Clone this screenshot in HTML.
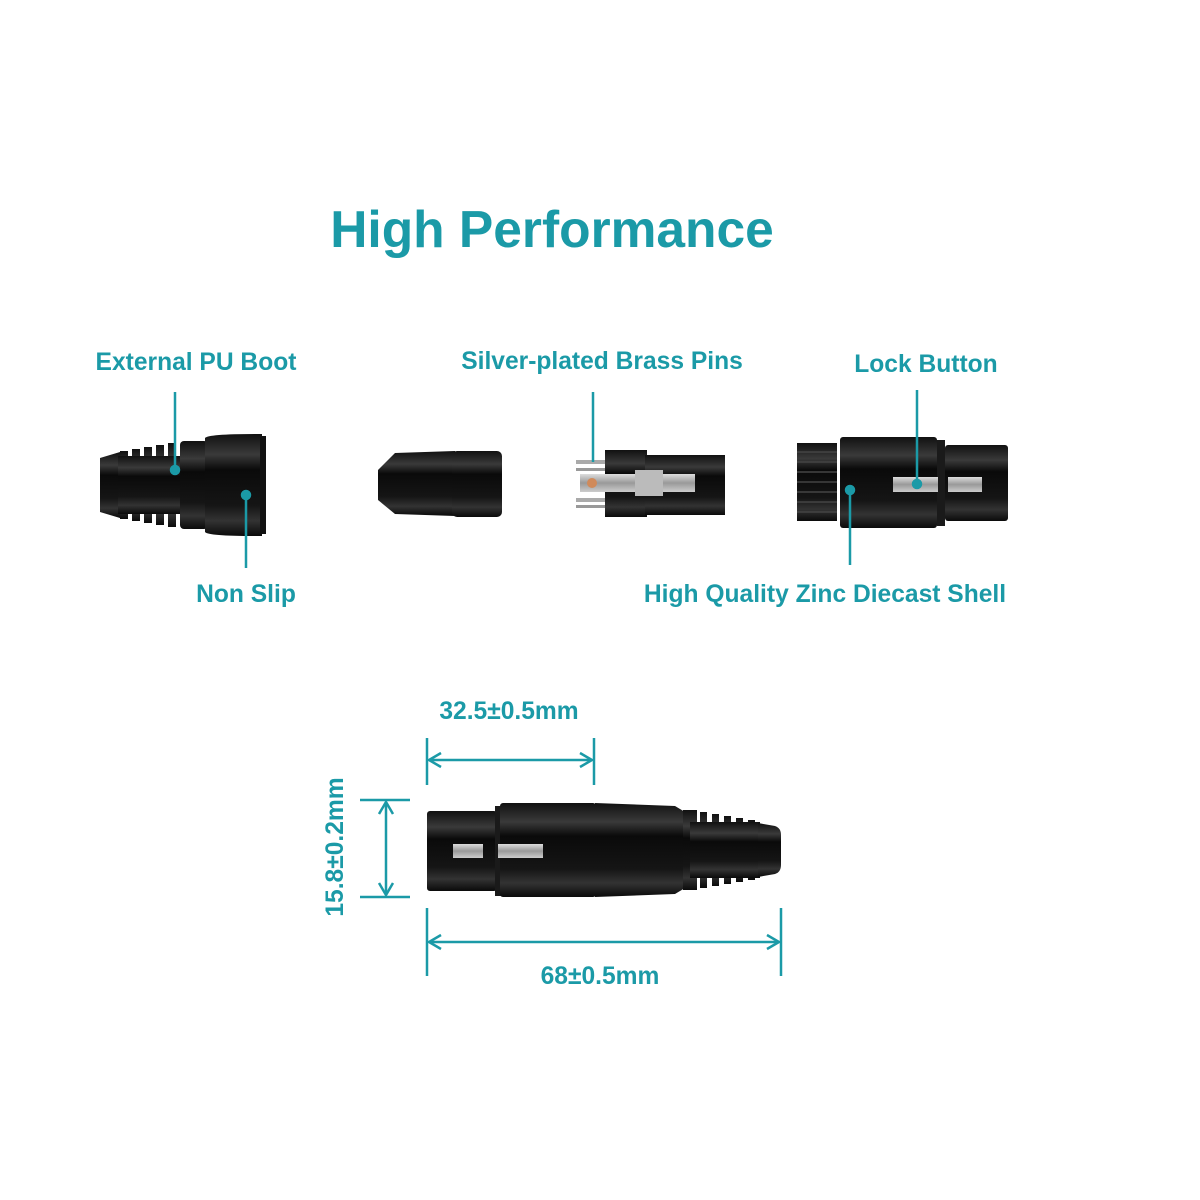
<!DOCTYPE html>
<html><head><meta charset="utf-8"><style>
html,body{margin:0;padding:0;background:#fff}
svg{display:block}
text{font-family:"Liberation Sans",Arial,sans-serif;font-weight:bold;fill:#1b9aa7}
</style></head><body>
<svg width="1200" height="1200" viewBox="0 0 1200 1200" xmlns="http://www.w3.org/2000/svg">
<defs>
<linearGradient id="blk" x1="0" y1="0" x2="0" y2="1">
<stop offset="0" stop-color="#111"/><stop offset="0.2" stop-color="#3a3a3a"/><stop offset="0.35" stop-color="#0a0a0a"/><stop offset="0.7" stop-color="#151515"/><stop offset="0.85" stop-color="#333"/><stop offset="1" stop-color="#0a0a0a"/>
</linearGradient>
<linearGradient id="met" x1="0" y1="0" x2="0" y2="1">
<stop offset="0" stop-color="#ddd"/><stop offset="0.5" stop-color="#999"/><stop offset="1" stop-color="#ccc"/>
</linearGradient>
</defs>
<text x="552" y="247" font-size="51.5" text-anchor="middle">High Performance</text>
<g font-size="24.6">
<text x="196" y="370" text-anchor="middle">External PU Boot</text>
<text x="602" y="369" text-anchor="middle">Silver-plated Brass Pins</text>
<text x="926" y="372" text-anchor="middle">Lock Button</text>
<text x="246" y="602" text-anchor="middle">Non Slip</text>
<text x="825" y="602" text-anchor="middle">High Quality Zinc Diecast Shell</text>
<text x="509" y="719" text-anchor="middle">32.5±0.5mm</text>
<text x="600" y="984" text-anchor="middle">68±0.5mm</text>
<text transform="translate(343,847) rotate(-90)" text-anchor="middle">15.8±0.2mm</text>
</g>
<!-- boot part 1 -->
<g>
<path d="M100 458 L120 452 L120 518 L100 512 Z" fill="url(#blk)"/>
<g fill="url(#blk)">
<rect x="120" y="451" width="8" height="68"/><rect x="132" y="449" width="8" height="72"/><rect x="144" y="447" width="8" height="76"/><rect x="156" y="445" width="8" height="80"/><rect x="168" y="443" width="8" height="84"/>
<rect x="118" y="456" width="70" height="58"/>
<rect x="180" y="441" width="28" height="88" rx="4"/>
</g>
<path d="M205 438 Q208 434 255 434 L262 434 L262 536 L255 536 Q208 536 205 532 Z" fill="url(#blk)"/>
<rect x="260" y="436" width="6" height="98" fill="#111"/>
</g>
<!-- insert -->
<path d="M378 470 L395 453 L455 451 L455 516 L395 514 L378 500 Z" fill="url(#blk)"/>
<rect x="452" y="451" width="50" height="66" rx="5" fill="url(#blk)"/>
<!-- pins part -->
<g>
<rect x="576" y="460" width="32" height="4" fill="#aaa"/><rect x="576" y="468" width="32" height="3" fill="#999"/>
<rect x="576" y="498" width="32" height="4" fill="#aaa"/><rect x="576" y="505" width="32" height="3" fill="#999"/>
<rect x="605" y="450" width="42" height="67" fill="url(#blk)"/>
<rect x="645" y="455" width="80" height="60" fill="url(#blk)"/>
<rect x="580" y="474" width="115" height="18" fill="url(#met)"/>
<circle cx="592" cy="483" r="5" fill="#d08a5a"/>
<rect x="635" y="470" width="28" height="26" fill="#bbb"/>
</g>
<!-- female shell -->
<g>
<rect x="797" y="443" width="40" height="78" fill="url(#blk)"/>
<g stroke="#444" stroke-width="1.5">
<line x1="797" y1="452" x2="837" y2="452"/><line x1="797" y1="462" x2="837" y2="462"/><line x1="797" y1="472" x2="837" y2="472"/><line x1="797" y1="482" x2="837" y2="482"/><line x1="797" y1="492" x2="837" y2="492"/><line x1="797" y1="502" x2="837" y2="502"/><line x1="797" y1="512" x2="837" y2="512"/>
</g>
<rect x="840" y="437" width="97" height="91" rx="3" fill="url(#blk)"/>
<rect x="937" y="440" width="8" height="86" fill="#1a1a1a"/>
<rect x="945" y="445" width="63" height="76" rx="3" fill="url(#blk)"/>
<rect x="893" y="477" width="45" height="15" fill="url(#met)"/>
<rect x="948" y="477" width="34" height="15" fill="url(#met)"/>
</g>
<!-- callout lines -->
<g stroke="#1b9aa7" stroke-width="2.5" fill="#1b9aa7">
<line x1="175" y1="392" x2="175" y2="470"/><circle cx="175" cy="470" r="4"/>
<line x1="246" y1="495" x2="246" y2="568"/><circle cx="246" cy="495" r="4"/>
<line x1="593" y1="392" x2="593" y2="462"/>
<line x1="917" y1="390" x2="917" y2="484"/><circle cx="917" cy="484" r="4"/>
<line x1="850" y1="490" x2="850" y2="565"/><circle cx="850" cy="490" r="4"/>
</g>
<!-- bottom connector -->
<g>
<rect x="427" y="811" width="70" height="80" rx="3" fill="url(#blk)"/>
<rect x="495" y="806" width="7" height="90" fill="#1a1a1a"/>
<rect x="500" y="803" width="96" height="94" rx="3" fill="url(#blk)"/>
<path d="M595 803 L675 806 L685 812 L685 888 L675 894 L595 897 Z" fill="url(#blk)"/>
<g fill="url(#blk)">
<rect x="683" y="810" width="14" height="80"/>
<rect x="700" y="812" width="7" height="76"/><rect x="712" y="814" width="7" height="72"/><rect x="724" y="816" width="7" height="68"/><rect x="736" y="818" width="7" height="64"/><rect x="748" y="820" width="7" height="60"/>
<rect x="690" y="822" width="70" height="56"/>
</g>
<path d="M758 823 L775 826 Q781 828 781 835 L781 865 Q781 872 775 874 L758 877 Z" fill="url(#blk)"/>
<rect x="453" y="844" width="30" height="14" fill="url(#met)"/>
<rect x="498" y="844" width="45" height="14" fill="url(#met)"/>
</g>
<!-- dimension lines -->
<g stroke="#1b9aa7" stroke-width="2.5" fill="none">
<line x1="427" y1="738" x2="427" y2="785"/><line x1="594" y1="738" x2="594" y2="785"/>
<line x1="429" y1="760" x2="592" y2="760"/>
<polyline points="441,753 429,760 441,767"/><polyline points="580,753 592,760 580,767"/>
<line x1="427" y1="908" x2="427" y2="976"/><line x1="781" y1="908" x2="781" y2="976"/>
<line x1="429" y1="942" x2="779" y2="942"/>
<polyline points="441,935 429,942 441,949"/><polyline points="767,935 779,942 767,949"/>
<line x1="360" y1="800" x2="410" y2="800"/><line x1="360" y1="897" x2="410" y2="897"/>
<line x1="386" y1="802" x2="386" y2="895"/>
<polyline points="379,814 386,802 393,814"/><polyline points="379,883 386,895 393,883"/>
</g>
</svg>
</body></html>
